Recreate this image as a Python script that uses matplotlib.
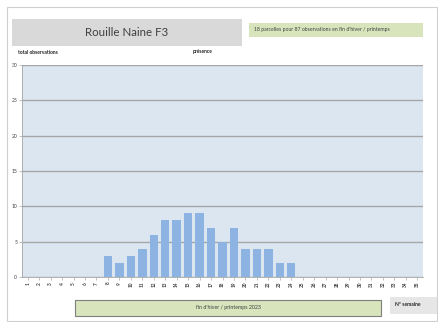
import matplotlib
matplotlib.use("Agg")
import matplotlib.pyplot as plt
from matplotlib.patches import Rectangle

weeks = list(range(1, 36))
week_labels = [str(w) for w in weeks]
counts = [0, 0, 0, 0, 0, 0, 0, 3, 2, 3, 4, 6, 8, 8, 9, 9, 7, 5, 7, 4, 4, 4, 2, 2,
          0, 0, 0, 0, 0, 0, 0, 0, 0, 0, 0]
y_ticks = [0, 5, 10, 15, 20, 25, 30]

W, H = 438, 322
fig = plt.figure(figsize=(W / 100, H / 100), dpi=100)
fig.patch.set_facecolor("white")
plt.rcParams['font.family'] = ['Lato', 'DejaVu Sans']

def fx(x):
    return x / W

def fy(y):
    return 1 - y / H

# outer frame
fig.patches.append(Rectangle((fx(7), fy(321)), fx(430), (314) / H, transform=fig.transFigure,
                             fill=False, edgecolor="#d0d0d0", linewidth=0.8))

# title box
fig.patches.append(Rectangle((fx(12), fy(46)), fx(230), 27 / H, transform=fig.transFigure,
                             facecolor="#d9d9d9", edgecolor="none"))
fig.text(fx(127), fy(32), "Rouille Naine F3", ha="center", va="center",
         fontsize=8.3, color="#404040", family=['Liberation Sans Narrow', 'Lato', 'DejaVu Sans'])

# green info box
fig.patches.append(Rectangle((fx(249), fy(37)), fx(174), 14 / H, transform=fig.transFigure,
                             facecolor="#d8e4bc", edgecolor="none"))
fig.text(fx(254), fy(30), "18 parcelles pour 87 observations en fin d'hiver / printemps",
         ha="left", va="center", fontsize=3.7, color="#404040")

fig.text(fx(18), fy(52), "total observations", ha="left", va="center",
         fontsize=3.6, color="#262626", fontweight="bold")
fig.text(fx(193), fy(52), "présence", ha="left", va="center",
         fontsize=3.6, color="#262626", fontweight="bold")

# axes
ax = fig.add_axes([fx(22), fy(277), (423 - 22) / W, (277 - 65) / H])
ax.set_facecolor("#dce6f1")
ax.bar(weeks, counts, width=0.74, color="#8db3e2", zorder=3)
ax.set_xlim(0.5, 35.5)
ax.set_ylim(0, 30)
ax.set_yticks(y_ticks)
ax.set_yticklabels([str(v) for v in y_ticks], fontsize=3.6, color="#404040")
ax.set_xticks(weeks)
ax.set_xticklabels(week_labels, rotation=90, fontsize=3.4, color="#404040",
                   fontweight="bold")
ax.yaxis.grid(True, color="#a6a6a6", linewidth=1.0, zorder=1)
ax.tick_params(axis="both", length=2, width=0.5, color="#a6a6a6", pad=1.5)
for s in ["top", "right"]:
    ax.spines[s].set_visible(False)
ax.spines["left"].set_color("#a6a6a6")
ax.spines["bottom"].set_color("#a6a6a6")
ax.spines["left"].set_linewidth(0.6)
ax.spines["bottom"].set_linewidth(0.6)

# bottom green box
fig.patches.append(Rectangle((fx(75), fy(316)), fx(306), 16 / H, transform=fig.transFigure,
                             facecolor="#d8e4bc", edgecolor="#7f7f7f", linewidth=0.8))
fig.text(fx(228), fy(308), "fin d'hiver / printemps 2023", ha="center", va="center",
         fontsize=3.8, color="#404040")

# N° semaine box
fig.patches.append(Rectangle((fx(390), fy(314)), fx(47), 17 / H, transform=fig.transFigure,
                             facecolor="#e6e6e6", edgecolor="none"))
fig.text(fx(395), fy(305), "N° semaine", ha="left", va="center",
         fontsize=3.6, color="#262626", fontweight="bold")

fig.savefig("out.png", dpi=100)
